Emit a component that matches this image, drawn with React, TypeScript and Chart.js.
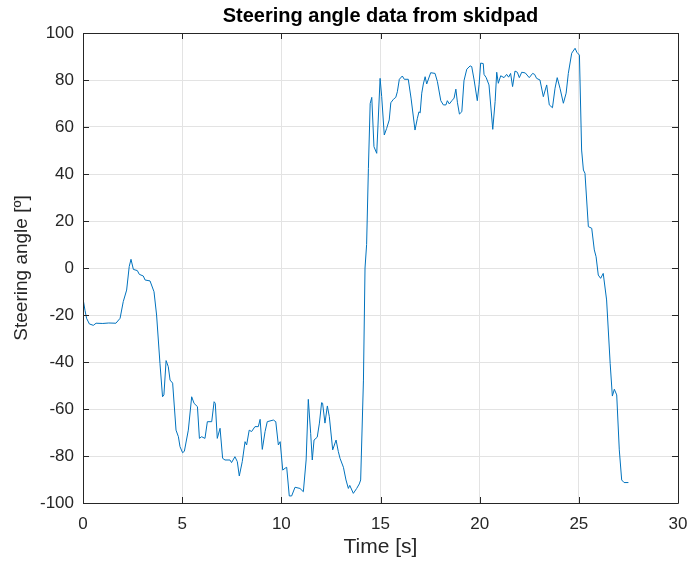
import React, { useEffect, useRef } from "react";
import { Chart, registerables } from "chart.js";

Chart.register(...registerables);

const TITLE = "Steering angle data from skidpad";
const X_LABEL = "Time [s]";
const Y_LABEL = "Steering angle [º]";

const X_MIN = 0;
const X_MAX = 30;
const X_STEP = 5;
const Y_MIN = -100;
const Y_MAX = 100;
const Y_STEP = 20;

const timeS = [
  0.0, 0.1, 0.18, 0.32, 0.52, 0.66, 1.0, 1.3, 1.66, 1.87, 2.03, 2.2, 2.33, 2.42, 2.54, 2.74, 2.84, 3.04, 3.13, 3.38,
  3.58, 3.71, 3.88, 4.01, 4.08, 4.19, 4.3, 4.39, 4.52, 4.69, 4.81, 4.89, 5.02, 5.11, 5.31, 5.48, 5.6, 5.77, 5.87, 5.98,
  6.15, 6.27, 6.49, 6.61, 6.67, 6.77, 6.91, 7.04, 7.16, 7.41, 7.49, 7.66, 7.78, 7.88, 8.03, 8.17, 8.25, 8.38, 8.5, 8.67,
  8.84, 8.93, 9.04, 9.18, 9.29, 9.6, 9.72, 9.85, 9.94, 10.07, 10.19, 10.27, 10.4, 10.52, 10.69, 10.94, 11.11, 11.25, 11.36, 11.48,
  11.56, 11.65, 11.81, 11.92, 12.03, 12.08, 12.2, 12.32, 12.42, 12.59, 12.76, 12.87, 12.96, 13.13, 13.26, 13.38, 13.45, 13.63, 13.8, 13.93,
  14.0, 14.14, 14.22, 14.3, 14.39, 14.48, 14.56, 14.67, 14.81, 14.98, 15.06, 15.19, 15.31, 15.44, 15.52, 15.65, 15.77, 15.85, 15.95, 16.1,
  16.2, 16.4, 16.54, 16.74, 16.86, 16.94, 17.0, 17.08, 17.16, 17.25, 17.33, 17.53, 17.75, 17.87, 18.04, 18.17, 18.3, 18.37, 18.47, 18.6,
  18.71, 18.8, 18.88, 18.98, 19.1, 19.21, 19.35, 19.52, 19.6, 19.72, 19.88, 19.97, 20.05, 20.18, 20.22, 20.33, 20.47, 20.66, 20.78, 20.86,
  20.94, 21.06, 21.23, 21.36, 21.46, 21.56, 21.66, 21.78, 21.9, 22.0, 22.12, 22.3, 22.5, 22.67, 22.77, 22.87, 23.04, 23.21, 23.38, 23.51,
  23.67, 23.8, 23.91, 24.05, 24.22, 24.36, 24.47, 24.64, 24.81, 24.9, 25.03, 25.14, 25.23, 25.31, 25.48, 25.65, 25.78, 25.87, 25.98, 26.1,
  26.23, 26.4, 26.58, 26.69, 26.79, 26.91, 27.04, 27.16, 27.28, 27.5,
];

const steeringDeg = [
  -13, -18, -21.4, -23.8, -24.4, -23.5, -23.6, -23.4, -23.5, -21.4, -14.3, -9.4, 0.6, 3.7, -0.6, -1.1, -2.7, -3.4, -5.1, -5.5,
  -10.1, -20, -40.6, -54.8, -54, -39.4, -42, -47.7, -49, -69, -71.8, -76, -78.6, -78, -69, -54.8, -57.6, -59, -72.5, -71.8,
  -72.5, -65.4, -65.4, -56.9, -57.6, -72.5, -68.2, -81, -81.7, -81.7, -82.8, -80.3, -82.4, -88.5, -82.4, -73.9, -75.3, -69, -69.6, -67.5,
  -67.5, -64.4, -77.2, -69.6, -65.4, -64.7, -65.4, -75.3, -73.9, -86, -85.2, -84.8, -97, -97, -93.3, -93.8, -95.2, -81.7, -55.9, -70.4,
  -81.7, -73.2, -72, -66, -57.3, -57.5, -66, -58.7, -63.3, -77.4, -73.2, -78, -81, -84.8, -90.2, -93.8, -92.5, -95.9, -93.8, -91.9,
  -90.2, -47.7, 0, 10, 42.4, 70, 72.6, 51.6, 48.8, 80.7, 72.9, 56.6, 59.4, 63, 70.3, 71.8, 72.6, 75, 80.3, 81.7,
  80.3, 80.3, 72.3, 58.7, 63.7, 66.5, 66, 74.4, 78.3, 81.4, 78.3, 83.1, 82.8, 79.3, 71.2, 69.4, 69.4, 71.2, 69.8, 71.2,
  72.3, 76.1, 70.3, 65.5, 66.5, 79.7, 84.6, 86, 85.7, 80, 71.2, 78, 87.2, 87, 82.4, 81, 77.9, 59, 70.9, 83.3,
  78.6, 81.8, 81, 82.4, 81.2, 82.8, 77.2, 83.8, 83.3, 81, 83.3, 83, 81, 82.8, 82.4, 80.7, 80, 72.9, 77.9, 69.4,
  68.2, 76.5, 81, 76.5, 70.1, 74.4, 82.8, 91.4, 93.5, 91.8, 90.6, 50.2, 41.7, 40.3, 17.6, 16.9, 7.7, 4.8, -3, -4.4,
  -2.3, -13.6, -40.6, -54.5, -51.6, -54, -77.4, -90.2, -91.3, -91.3,
];

const FONT = "'Liberation Sans', Arial, Helvetica, sans-serif";
const TEXT = "#262626";

const framePlugin = {
  id: "matlabFrame",
  afterDatasetsDraw(chart: any) {
    const { ctx, chartArea } = chart;
    const { left, right, top, bottom } = chartArea;
    const xs = chart.scales.x;
    const ys = chart.scales.y;
    ctx.save();
    ctx.strokeStyle = TEXT;
    ctx.lineWidth = 1;
    const tl = 6;
    ctx.beginPath();
    for (let v = X_MIN; v <= X_MAX; v += X_STEP) {
      const px = Math.round(xs.getPixelForValue(v)) + 0.5;
      ctx.moveTo(px, bottom);
      ctx.lineTo(px, bottom - tl);
      ctx.moveTo(px, top);
      ctx.lineTo(px, top + tl);
    }
    for (let v = Y_MIN; v <= Y_MAX; v += Y_STEP) {
      const py = Math.round(ys.getPixelForValue(v)) + 0.5;
      ctx.moveTo(left, py);
      ctx.lineTo(left + tl, py);
      ctx.moveTo(right, py);
      ctx.lineTo(right - tl, py);
    }
    ctx.stroke();
    ctx.beginPath();
    ctx.rect(Math.round(left) + 0.5, Math.round(top) + 0.5, Math.round(right - left), Math.round(bottom - top));
    ctx.stroke();
    // title centred over the axes box
    ctx.fillStyle = "#000";
    ctx.font = `bold 20px ${FONT}`;
    ctx.textAlign = "center";
    ctx.textBaseline = "alphabetic";
    ctx.fillText(TITLE, (left + right) / 2, 22);
    ctx.restore();
  },
};

export default function App() {
  const ref = useRef<HTMLCanvasElement | null>(null);
  useEffect(() => {
    if (!ref.current) return;
    const points = timeS.map((t, i) => ({ x: t, y: steeringDeg[i] }));
    const chart = new Chart(ref.current, {
      type: "line",
      data: {
        datasets: [
          {
            data: points,
            borderColor: "#0072BD",
            borderWidth: 1,
            pointRadius: 0,
            tension: 0,
            fill: false,
          },
        ],
      },
      options: {
        animation: false,
        responsive: false,
        parsing: false as any,
        layout: { padding: { left: 0, right: 13, top: 33, bottom: 0 } },
        plugins: {
          legend: { display: false },
          tooltip: { enabled: false },
          title: { display: false },
        },
        scales: {
          x: {
            type: "linear",
            min: X_MIN,
            max: X_MAX,
            afterFit: (s: any) => {
              s.height = 60;
              s.paddingLeft = 0;
              s.paddingRight = 0;
            },
            ticks: { stepSize: X_STEP, color: TEXT, font: { family: FONT, size: 17 }, padding: 11, maxRotation: 0 },
            grid: { color: "#e3e3e3", lineWidth: 1, drawTicks: false },
            border: { display: false },
            title: {
              display: true,
              text: X_LABEL,
              color: TEXT,
              font: { family: FONT, size: 21 },
              padding: { top: 0, bottom: 3 },
            },
          },
          y: {
            type: "linear",
            min: Y_MIN,
            max: Y_MAX,
            afterFit: (s: any) => {
              s.width = 83;
              s.paddingTop = 0;
              s.paddingBottom = 0;
            },
            ticks: { stepSize: Y_STEP, color: TEXT, font: { family: FONT, size: 17 }, padding: 9 },
            grid: { color: "#e3e3e3", lineWidth: 1, drawTicks: false },
            border: { display: false },
            title: {
              display: true,
              text: Y_LABEL,
              color: TEXT,
              font: { family: FONT, size: 19 },
              padding: { top: 10.6, bottom: 0 },
            },
          },
        },
      },
      plugins: [framePlugin],
    });
    return () => chart.destroy();
  }, []);
  return (
    <div style={{ position: "absolute", left: 0, top: 0, width: 691, height: 563, background: "#fff" }}>
      <canvas ref={ref} width={691} height={563} style={{ display: "block" }} />
    </div>
  );
}
